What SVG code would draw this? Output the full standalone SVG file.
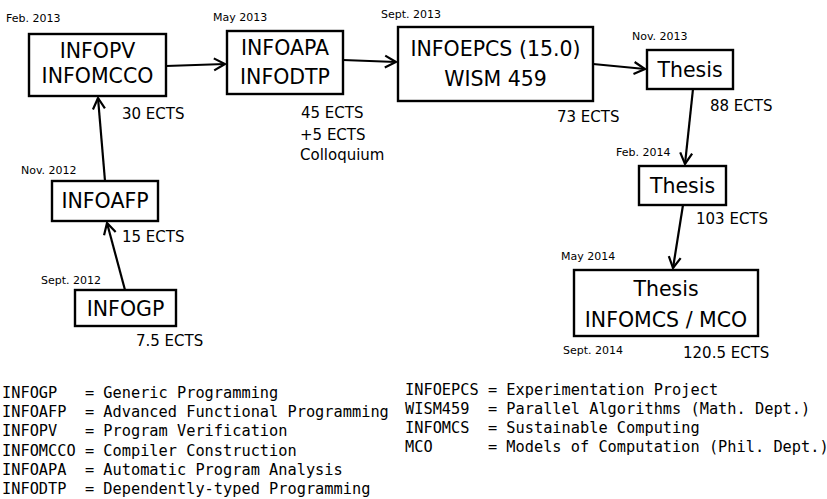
<svg xmlns="http://www.w3.org/2000/svg" width="827" height="499" viewBox="0 0 827 499">
<defs>
<marker id="arr" markerUnits="userSpaceOnUse" markerWidth="18" markerHeight="18" viewBox="-13 -9 18 18" refX="0" refY="0" orient="auto">
<path d="M-11,-6 L0,0 L-11,6" fill="none" stroke="#000" stroke-width="2.2"/>
</marker>
</defs>
<style>
.box{fill:#fff;stroke:#000;stroke-width:2.4}
.nl{font-family:"DejaVu Sans",sans-serif;font-size:20.5px;text-anchor:middle;fill:#000}
.dt{font-family:"DejaVu Sans",sans-serif;font-size:11px;fill:#000}
.ec{font-family:"DejaVu Sans",sans-serif;font-size:15px;fill:#000}
.lg{font-family:"DejaVu Sans Mono",monospace;font-size:15.3px;fill:#000;white-space:pre}
.cn line{stroke:#000;stroke-width:2.2;marker-end:url(#arr)}
</style>
<rect width="827" height="499" fill="#fff"/>
<g class="cn" id="connectors">
<line x1="125" y1="290" x2="107" y2="223"/>
<line x1="105" y1="181" x2="98" y2="98"/>
<line x1="166" y1="66" x2="225" y2="64"/>
<line x1="343" y1="60" x2="396" y2="62"/>
<line x1="593" y1="64" x2="645" y2="69"/>
<line x1="693" y1="89" x2="685" y2="164"/>
<line x1="683" y1="205" x2="673" y2="268"/>
</g>
<g id="n_infogp">
<rect class="box" x="75" y="290" width="101" height="36"/>
<text class="nl" x="125.5" y="316">INFOGP</text>
<text class="dt" x="41" y="284">Sept. 2012</text>
<text class="ec" x="136" y="346">7.5 ECTS</text>
</g>
<g id="n_infoafp">
<rect class="box" x="52" y="181" width="106" height="40"/>
<text class="nl" x="105" y="208">INFOAFP</text>
<text class="dt" x="21" y="174">Nov. 2012</text>
<text class="ec" x="122" y="242">15 ECTS</text>
</g>
<g id="n_infopv">
<rect class="box" x="29" y="34" width="137" height="62"/>
<text class="nl" x="97.5" y="58">INFOPV</text>
<text class="nl" x="97.5" y="83">INFOMCCO</text>
<text class="dt" x="6" y="22">Feb. 2013</text>
<text class="ec" x="122" y="119">30 ECTS</text>
</g>
<g id="n_infoapa">
<rect class="box" x="227" y="31" width="116" height="63"/>
<text class="nl" x="285" y="55">INFOAPA</text>
<text class="nl" x="285" y="84">INFODTP</text>
<text class="dt" x="213" y="21">May 2013</text>
<text class="ec" x="301" y="118">45 ECTS</text>
<text class="ec" x="300" y="140">+5 ECTS</text>
<text class="ec" x="300" y="160">Colloquium</text>
</g>
<g id="n_infoepcs">
<rect class="box" x="398" y="27" width="195" height="74"/>
<text class="nl" x="495.5" y="56">INFOEPCS (15.0)</text>
<text class="nl" x="495.5" y="86">WISM 459</text>
<text class="dt" x="381" y="18">Sept. 2013</text>
<text class="ec" x="557" y="122">73 ECTS</text>
</g>
<g id="n_thesis1">
<rect class="box" x="647" y="50" width="86" height="39"/>
<text class="nl" x="690" y="77">Thesis</text>
<text class="dt" x="632" y="40">Nov. 2013</text>
<text class="ec" x="710" y="111">88 ECTS</text>
</g>
<g id="n_thesis2">
<rect class="box" x="639" y="166" width="87" height="39"/>
<text class="nl" x="682.5" y="193">Thesis</text>
<text class="dt" x="616" y="156">Feb. 2014</text>
<text class="ec" x="696" y="224">103 ECTS</text>
</g>
<g id="n_thesis3">
<rect class="box" x="574" y="270" width="184" height="66"/>
<text class="nl" x="666" y="296">Thesis</text>
<text class="nl" x="666" y="327">INFOMCS / MCO</text>
<text class="dt" x="561" y="260">May 2014</text>
<text class="dt" x="563" y="354">Sept. 2014</text>
<text class="ec" x="683" y="358">120.5 ECTS</text>
</g>
<g id="legend">
<text class="lg" x="2" y="398">INFOGP   = Generic Programming</text>
<text class="lg" x="2" y="417">INFOAFP  = Advanced Functional Programming</text>
<text class="lg" x="2" y="436">INFOPV   = Program Verification</text>
<text class="lg" x="2" y="456">INFOMCCO = Compiler Construction</text>
<text class="lg" x="2" y="475">INFOAPA  = Automatic Program Analysis</text>
<text class="lg" x="2" y="494">INFODTP  = Dependently-typed Programming</text>
<text class="lg" x="405" y="395">INFOEPCS = Experimentation Project</text>
<text class="lg" x="405" y="414">WISM459  = Parallel Algorithms (Math. Dept.)</text>
<text class="lg" x="405" y="433">INFOMCS  = Sustainable Computing</text>
<text class="lg" x="405" y="452">MCO      = Models of Computation (Phil. Dept.)</text>
</g>
</svg>
